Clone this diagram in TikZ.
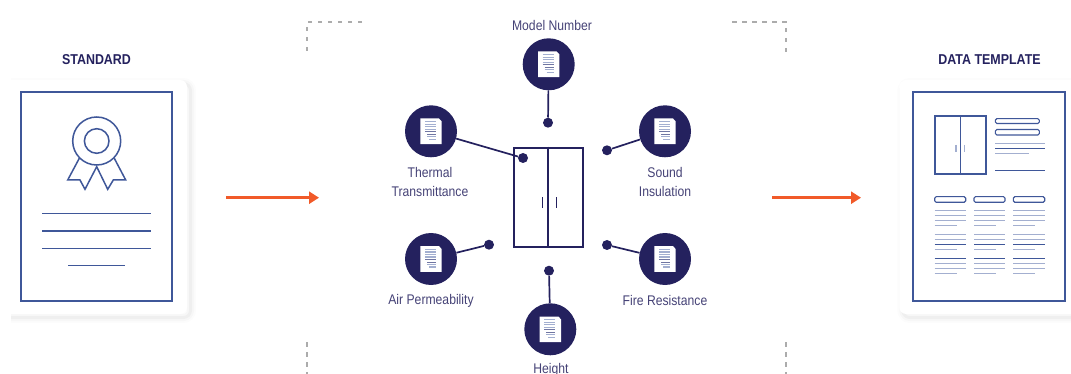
\documentclass[tikz,border=0pt]{standalone}
\usepackage{fontspec}
\setmainfont{Liberation Sans}[FakeStretch=0.87]
\usetikzlibrary{arrows.meta}
\definecolor{navy}{HTML}{24215E}
\definecolor{frameblue}{HTML}{3F5799}
\definecolor{paleblue}{HTML}{A3AFD0}
\definecolor{orangered}{HTML}{F15A29}
\tikzset{
  card/.style={draw=none, rectangle, rounded corners=7pt, fill=white,
    preaction={draw=black, draw opacity=.012, line width=11pt, transform canvas={shift={(3.5pt,-3.5pt)}}},
    preaction={draw=black, draw opacity=.02, line width=7pt, transform canvas={shift={(3.5pt,-3.5pt)}}},
    preaction={draw=black, draw opacity=.03, line width=3pt, transform canvas={shift={(3.5pt,-3.5pt)}}}},
  frame/.style={draw=frameblue, rectangle, line width=1.8pt, inner sep=0pt},
  rule/.style={draw=frameblue, line width=1.5pt},
  faint/.style={draw=paleblue, line width=1.4pt},
  pill/.style={draw=frameblue, line width=1.1pt, rounded corners=1.5pt},
  heading/.style={text=navy, font=\bfseries\fontsize{14.3}{16}\selectfont},
  label/.style={text=navy!85!white, align=center, font=\fontsize{14}{19}\selectfont},
  hub/.style={circle, fill=navy, minimum size=52pt, inner sep=0pt},
  dot/.style={circle, fill=navy, minimum size=10pt, inner sep=0pt},
  wire/.style={draw=navy, line width=1.7pt},
  dashmark/.style={draw=gray!65, line width=1.2pt, dash pattern=on 4.5pt off 5.5pt},
  flow/.style={draw=orangered, line width=3.6pt, -{Triangle[length=10pt,width=12pt]}},
  docicon/.pic={
    \fill[white] (-10.7,-12.8) -- (8,-12.8) -- (10.7,-10) -- (10.7,12.8) -- (-10.7,12.8) -- cycle;
    \draw[draw=paleblue, line width=1.1pt] (-6,-9.5) -- (5,-9.5) (-6,-7) -- (5,-7) (-6,-4.5) -- (5,-4.5) (-6,-2) -- (5,-2);
    \draw[draw=paleblue!60!navy, line width=.7pt] (-6,.5) -- (5,.5) (-4,3) -- (5,3);
    \draw[draw=paleblue, line width=1.1pt] (-4,5.5) -- (5,5.5) (-2,8) -- (5,8);
  }
}
\begin{document}
\begin{tikzpicture}[x=1pt, y=-1pt]
  \useasboundingbox (0,0) rectangle (1071,374);

  \begin{scope}
    \clip (11,60) rectangle (215,340);
    \node (StandardCard) at (88.5,197) [card, minimum width=197pt, minimum height=234pt] {};
  \end{scope}
  \node (DataCard) at (994.65,197) [card, minimum width=190.7pt, minimum height=234pt] {};

  \node (StandardTitle) at (96.5,60) [heading] {STANDARD};
  \node (DataTitle) at (989.5,60) [heading] {DATA TEMPLATE};

  \node (StandardFrame) at (96.5,196.5) [frame, minimum width=151pt, minimum height=209pt] {};
  \node (DataFrame) at (989.2,196.5) [frame, minimum width=151.7pt, minimum height=209pt] {};

  % seal
  \draw[rule] (79.3,158.3) -- (67.7,180) -- (80,180) -- (85,189.3) -- (96.7,166.7) -- (107.7,189.3) -- (113.3,180) -- (125.7,180) -- (114.3,158.3);
  \node (SealOuter) at (96.7,141) [circle, fill=white, draw=frameblue, line width=1.5pt, minimum size=48pt, inner sep=0pt] {};
  \node (SealInner) at (96.7,141) [circle, draw=frameblue, line width=1.5pt, minimum size=24.6pt, inner sep=0pt] {};

  \draw[rule] (42.3,213.5) -- (151,213.5);
  \draw[rule] (42.3,231) -- (151,231);
  \draw[rule] (42.3,248.5) -- (151,248.5);
  \draw[rule] (68.3,265.5) -- (125,265.5);

  % small door
  \node (SmallDoor) at (960.5,145) [frame, minimum width=51pt, minimum height=58pt] {};
  \draw[frame] (SmallDoor.north) -- (SmallDoor.south);
  \draw[faint] (956,145) -- (956,151.7);
  \draw[faint] (964.3,145) -- (964.3,151.7);
  \draw[pill] (995.3,118.7) rectangle (1039.3,123.5);
  \draw[pill] (995.3,129.5) rectangle (1039.3,135);
  \draw[faint] (995.3,143.5) -- (1044.7,143.5);
  \draw[rule] (995.3,148.5) -- (1044.7,148.5);
  \draw[faint] (995.3,153.5) -- (1029.3,153.5);
  \draw[rule] (995.3,170.5) -- (1044.7,170.5);

  % table
  \draw[pill] (934.7,196.7) rectangle (965.7,202.3);
  \draw[pill] (974,196.7) rectangle (1005,202.3);
  \draw[pill] (1013.3,196.7) rectangle (1044.7,202.3);
  \draw[faint] (934.7,210.5) -- (965.7,210.5) (974,210.5) -- (1005,210.5) (1013.3,210.5) -- (1044.7,210.5);
  \draw[faint] (934.7,215.5) -- (965.7,215.5) (974,215.5) -- (1005,215.5) (1013.3,215.5) -- (1044.7,215.5);
  \draw[faint] (934.7,220.5) -- (965.7,220.5) (974,220.5) -- (1005,220.5) (1013.3,220.5) -- (1044.7,220.5);
  \draw[faint] (934.7,225.5) -- (956.7,225.5) (974,225.5) -- (996,225.5) (1013.3,225.5) -- (1035.3,225.5);
  \draw[faint] (934.7,234.5) -- (965.7,234.5) (974,234.5) -- (1005,234.5) (1013.3,234.5) -- (1044.7,234.5);
  \draw[faint] (934.7,239.5) -- (965.7,239.5) (974,239.5) -- (1005,239.5) (1013.3,239.5) -- (1044.7,239.5);
  \draw[rule] (934.7,244.5) -- (965.7,244.5) (974,244.5) -- (1005,244.5) (1013.3,244.5) -- (1044.7,244.5);
  \draw[faint] (934.7,249.5) -- (956.7,249.5) (974,249.5) -- (996,249.5) (1013.3,249.5) -- (1035.3,249.5);
  \draw[rule] (934.7,258.5) -- (965.7,258.5) (974,258.5) -- (1005,258.5) (1013.3,258.5) -- (1044.7,258.5);
  \draw[faint] (934.7,263.5) -- (965.7,263.5) (974,263.5) -- (1005,263.5) (1013.3,263.5) -- (1044.7,263.5);
  \draw[faint] (934.7,268.5) -- (965.7,268.5) (974,268.5) -- (1005,268.5) (1013.3,268.5) -- (1044.7,268.5);
  \draw[faint] (934.7,273.5) -- (956.7,273.5) (974,273.5) -- (996,273.5) (1013.3,273.5) -- (1035.3,273.5);

  % flow arrows
  \coordinate (InStart) at (226,197.7);
  \coordinate (InEnd) at (319,197.7);
  \coordinate (OutStart) at (772,197.7);
  \coordinate (OutEnd) at (861,197.7);
  \draw[flow] (InStart) -- (InEnd);
  \draw[flow] (OutStart) -- (OutEnd);

  % dashed corners
  \coordinate (CornerNW) at (307,22);
  \coordinate (CornerNE) at (786,22);
  \coordinate (CornerSW) at (307,374);
  \coordinate (CornerSE) at (786,374);
  \draw[dashmark] (362,22) -- (CornerNW) -- (307,55);
  \draw[dashmark] (732,22) -- (CornerNE) -- (786,55);
  \draw[dashmark] (307,342) -- (CornerSW);
  \draw[dashmark] (786,342) -- (CornerSE);

  % big door
  \node (Door) at (548.2,197.3) [draw=navy, rectangle, line width=1.9pt, inner sep=0pt, minimum width=69pt, minimum height=99.3pt] {};
  \draw[draw=navy, line width=1.9pt] (Door.north) -- (Door.south);
  \draw[draw=navy, line width=.9pt] (542.3,197.3) -- (542.3,207.7);
  \draw[draw=navy, line width=.9pt] (556.3,197.3) -- (556.3,207.7);

  \node (Model) at (548.7,64.3) [hub] {};
  \node (Thermal) at (431,131.3) [hub] {};
  \node (Sound) at (665,131.3) [hub] {};
  \node (Air) at (431,259) [hub] {};
  \node (Fire) at (665,259) [hub] {};
  \node (Height) at (550.3,329.3) [hub] {};

  \node (ModelDot) at (548,122.7) [dot] {};
  \node (ThermalDot) at (523,158) [dot] {};
  \node (SoundDot) at (607,150.3) [dot] {};
  \node (AirDot) at (489,244.7) [dot] {};
  \node (FireDot) at (607,245) [dot] {};
  \node (HeightDot) at (549,270.7) [dot] {};

  \draw[wire] (Model) -- (ModelDot);
  \draw[wire] (Thermal) -- (ThermalDot);
  \draw[wire] (Sound) -- (SoundDot);
  \draw[wire] (Air) -- (AirDot);
  \draw[wire] (Fire) -- (FireDot);
  \draw[wire] (Height) -- (HeightDot);

  \pic at (Model) {docicon};
  \pic at (Thermal) {docicon};
  \pic at (Sound) {docicon};
  \pic at (Air) {docicon};
  \pic at (Fire) {docicon};
  \pic at (Height) {docicon};

  \node (ModelLabel) at (552,25) [label] {Model Number};
  \node (ThermalLabel) at (430,181.5) [label] {Thermal\\Transmittance};
  \node (SoundLabel) at (665,181.5) [label] {Sound\\Insulation};
  \node (AirLabel) at (431,301) [label] {Air Permeability};
  \node (FireLabel) at (665,300) [label] {Fire Resistance};
  \node (HeightLabel) at (551,369.5) [label] {Height};
\end{tikzpicture}
\end{document}
